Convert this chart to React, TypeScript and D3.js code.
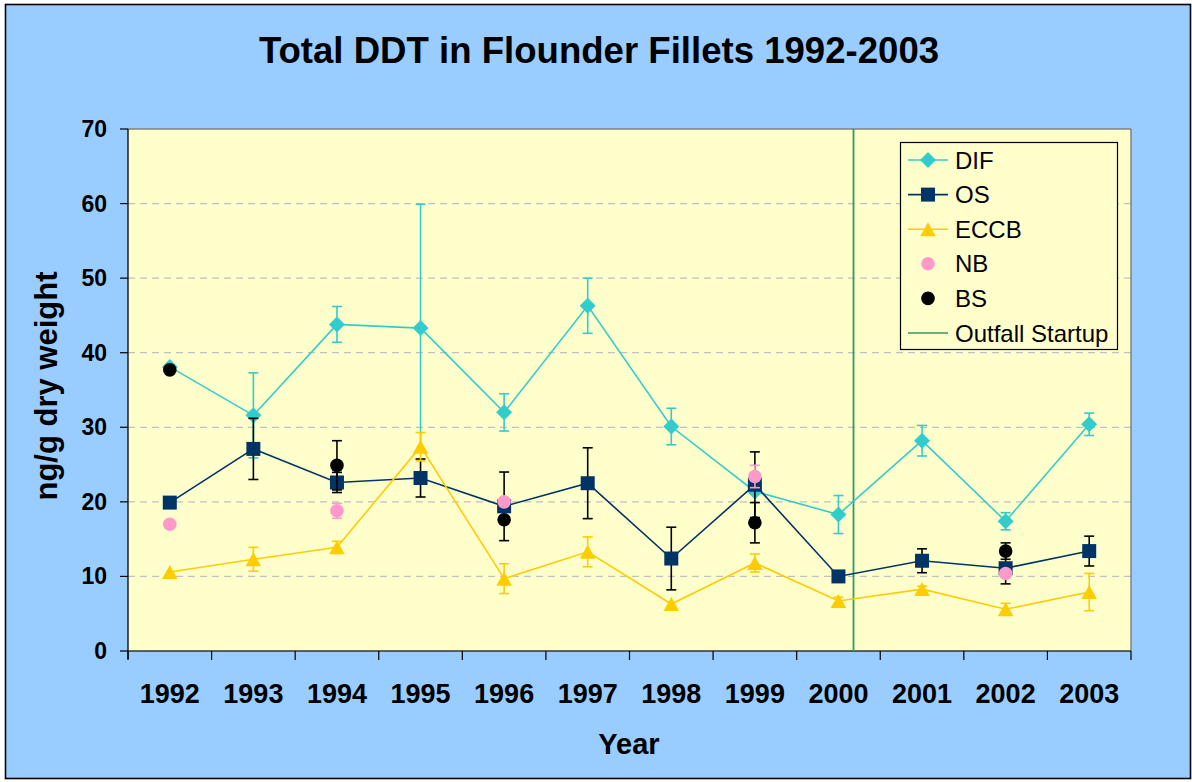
import React from "react";
import * as d3 from "d3";

const YEARS = [1992, 1993, 1994, 1995, 1996, 1997, 1998, 1999, 2000, 2001, 2002, 2003];
const Y_TICKS = [0, 10, 20, 30, 40, 50, 60, 70];

const DIF = [38.1, 31.6, 43.8, 43.3, 32.0, 46.3, 30.1, 21.4, 18.3, 28.2, 17.4, 30.4];
const DIF_ERR = [0, 5.7, 2.4, 16.6, 2.5, 3.7, 2.45, 0, 2.55, 2.05, 1.15, 1.5];

const OS = [19.9, 27.1, 22.6, 23.2, 19.4, 22.5, 12.4, 22.3, 10.0, 12.1, 11.1, 13.4];
const OS_ERR = [0, 4.1, 1.35, 2.55, 4.6, 4.75, 4.2, 4.4, 0, 1.6, 2.1, 2.0];

const ECCB = [10.6, 12.3, 13.9, 27.4, 9.7, 13.3, 6.3, 11.8, 6.7, 8.3, 5.6, 7.9];
const ECCB_ERR = [0, 1.6, 0.8, 1.9, 2.0, 2.0, 0, 1.2, 0.5, 0.4, 0.8, 2.5];

const NB = [17.0, null, 18.8, null, 20.0, null, null, 23.4, null, null, 10.4, null];
const NB_ERR = [0, 0, 1.0, 0, 0, 0, 0, 1.5, 0, 0, 0.5, 0];

const BS = [37.7, null, 24.9, null, 17.6, null, null, 17.2, null, null, 13.4, null];
const BS_ERR = [0, 0, 3.3, 0, 0, 0, 0, 2.7, 0, 0, 1.1, 0];

const OUTFALL_STARTUP = 2000.68;

const TITLE = "Total DDT in Flounder Fillets 1992-2003";
const X_TITLE = "Year";
const Y_TITLE = "ng/g dry weight";

const FONT = "'Liberation Sans', Arial, Helvetica, sans-serif";

type Marker = "diamond" | "square" | "triangle" | "circle";

interface Series {
  name: string;
  values: (number | null)[];
  errors: number[];
  color: string;
  errColor: string;
  marker: Marker;
  line: boolean;
}

const SERIES: Series[] = [
  { name: "DIF", values: DIF, errors: DIF_ERR, color: "#33CCCC", errColor: "#33CCCC", marker: "diamond", line: true },
  { name: "OS", values: OS, errors: OS_ERR, color: "#003366", errColor: "#000000", marker: "square", line: true },
  { name: "ECCB", values: ECCB, errors: ECCB_ERR, color: "#FFCC00", errColor: "#FFCC00", marker: "triangle", line: true },
  { name: "NB", values: NB, errors: NB_ERR, color: "#FF99CC", errColor: "#FF99CC", marker: "circle", line: false },
  { name: "BS", values: BS, errors: BS_ERR, color: "#000000", errColor: "#000000", marker: "circle", line: false },
];

function markerPath(m: Marker, cx: number, cy: number): string {
  switch (m) {
    case "diamond": {
      const r = 8;
      return `M${cx},${cy - r}L${cx + r},${cy}L${cx},${cy + r}L${cx - r},${cy}Z`;
    }
    case "square": {
      const s = 7;
      return `M${cx - s},${cy - s}H${cx + s}V${cy + s}H${cx - s}Z`;
    }
    case "triangle": {
      const w = 7.8;
      const h = 7;
      return `M${cx},${cy - h}L${cx + w},${cy + h}L${cx - w},${cy + h}Z`;
    }
    default: {
      const r = 6.8;
      return `M${cx - r},${cy}a${r},${r} 0 1,0 ${2 * r},0a${r},${r} 0 1,0 ${-2 * r},0Z`;
    }
  }
}

export default function App() {
  const W = 1192;
  const H = 782;
  const left = 128, right = 1131, top = 129, bottom = 651;

  const x = d3.scaleLinear().domain([YEARS[0], YEARS[YEARS.length - 1] + 1]).range([left, right]);
  const y = d3.scaleLinear().domain([0, 70]).range([bottom, top]);
  const cx = (yr: number) => x(yr + 0.5);

  const xTickVals = d3.range(YEARS[0], YEARS[YEARS.length - 1] + 2);

  const lineGen = d3
    .line<[number, number | null]>()
    .defined((d) => d[1] != null)
    .x((d) => cx(d[0]))
    .y((d) => y(d[1] as number));

  const legendX = 900, legendY = 142, legendW = 217, legendH = 207;
  const rowH = 34.6;

  return (
    <svg
      width={W}
      height={H}
      style={{ position: "absolute", left: 0, top: 0, display: "block" }}
      fontFamily={FONT}
    >
      <rect x={0} y={0} width={W} height={H} fill="#ffffff" />
      <rect x={5.5} y={4.5} width={1185} height={774} fill="#99CCFF" stroke="#000" strokeWidth={1.6} />
      <text x={599} y={63} textAnchor="middle" fontSize={36.6} fontWeight="bold" fill="#000">
        {TITLE}
      </text>

      {/* plot area */}
      <rect x={left} y={top} width={right - left} height={bottom - top} fill="#FFFFCC" />
      {Y_TICKS.filter((t) => t > 0 && t < 70).map((t) => (
        <line
          key={"g" + t}
          x1={left}
          x2={right}
          y1={y(t)}
          y2={y(t)}
          stroke="#C0C0C0"
          strokeWidth={1.3}
          strokeDasharray="7 5"
        />
      ))}
      <line x1={left} x2={right} y1={top} y2={top} stroke="#808080" strokeWidth={1.5} />
      <line x1={right} x2={right} y1={top} y2={bottom} stroke="#808080" strokeWidth={1.5} />

      {/* axes */}
      <line x1={left} x2={left} y1={top} y2={bottom + 8} stroke="#000" strokeWidth={1.3} />
      <line x1={left} x2={right} y1={bottom} y2={bottom} stroke="#333" strokeWidth={1.5} />
      {Y_TICKS.map((t) => (
        <g key={"yt" + t}>
          <line x1={left - 8} x2={left} y1={y(t)} y2={y(t)} stroke="#000" strokeWidth={1.2} />
          <text x={107} y={y(t) + 8} textAnchor="end" fontSize={23} fontWeight="bold" fill="#000">
            {t}
          </text>
        </g>
      ))}
      {xTickVals.map((t) => (
        <line key={"xt" + t} x1={x(t)} x2={x(t)} y1={bottom} y2={bottom + 9} stroke="#000" strokeWidth={1.2} />
      ))}
      {YEARS.map((yr) => (
        <text key={"xl" + yr} x={cx(yr)} y={703} textAnchor="middle" fontSize={27} fontWeight="bold" fill="#000">
          {yr}
        </text>
      ))}
      <text x={629} y={754} textAnchor="middle" fontSize={29} fontWeight="bold" fill="#000">
        {X_TITLE}
      </text>
      <text
        transform={`translate(57,386) rotate(-90)`}
        textAnchor="middle"
        fontSize={31}
        fontWeight="bold"
        fill="#000"
      >
        {Y_TITLE}
      </text>

      {/* outfall startup */}
      <line x1={x(OUTFALL_STARTUP)} x2={x(OUTFALL_STARTUP)} y1={top} y2={bottom} stroke="#339966" strokeWidth={1.8} />

      {/* series */}
      {SERIES.map((s) => {
        const pts = YEARS.map((yr, i) => [yr, s.values[i]] as [number, number | null]);
        return (
          <g key={s.name}>
            {s.line && <path d={lineGen(pts) || ""} fill="none" stroke={s.color} strokeWidth={1.6} />}
            {YEARS.map((yr, i) => {
              const v = s.values[i];
              const e = s.errors[i];
              if (v == null || !e) return null;
              const px = cx(yr);
              const y1 = y(v + e);
              const y2 = y(v - e);
              return (
                <g key={"e" + yr} stroke={s.errColor} strokeWidth={1.6}>
                  <line x1={px} x2={px} y1={y1} y2={y2} />
                  <line x1={px - 5} x2={px + 5} y1={y1} y2={y1} />
                  <line x1={px - 5} x2={px + 5} y1={y2} y2={y2} />
                </g>
              );
            })}
            {YEARS.map((yr, i) => {
              const v = s.values[i];
              if (v == null) return null;
              return <path key={"m" + yr} d={markerPath(s.marker, cx(yr), y(v))} fill={s.color} />;
            })}
          </g>
        );
      })}

      {/* legend */}
      <rect x={legendX + 0.5} y={legendY + 0.5} width={legendW} height={legendH} fill="#FFFFCC" stroke="#000" strokeWidth={1.2} />
      {SERIES.map((s, i) => {
        const ly = legendY + 18 + i * rowH;
        return (
          <g key={"lg" + s.name}>
            {s.line && <line x1={908} x2={948} y1={ly} y2={ly} stroke={s.color} strokeWidth={1.6} />}
            <path d={markerPath(s.marker, 928, ly)} fill={s.color} />
            <text x={955} y={ly + 8.5} fontSize={24} fill="#000">
              {s.name}
            </text>
          </g>
        );
      })}
      {(() => {
        const ly = legendY + 18 + SERIES.length * rowH;
        return (
          <g>
            <line x1={908} x2={948} y1={ly} y2={ly} stroke="#339966" strokeWidth={1.6} />
            <text x={955} y={ly + 8.5} fontSize={24} fill="#000">
              Outfall Startup
            </text>
          </g>
        );
      })()}
    </svg>
  );
}
